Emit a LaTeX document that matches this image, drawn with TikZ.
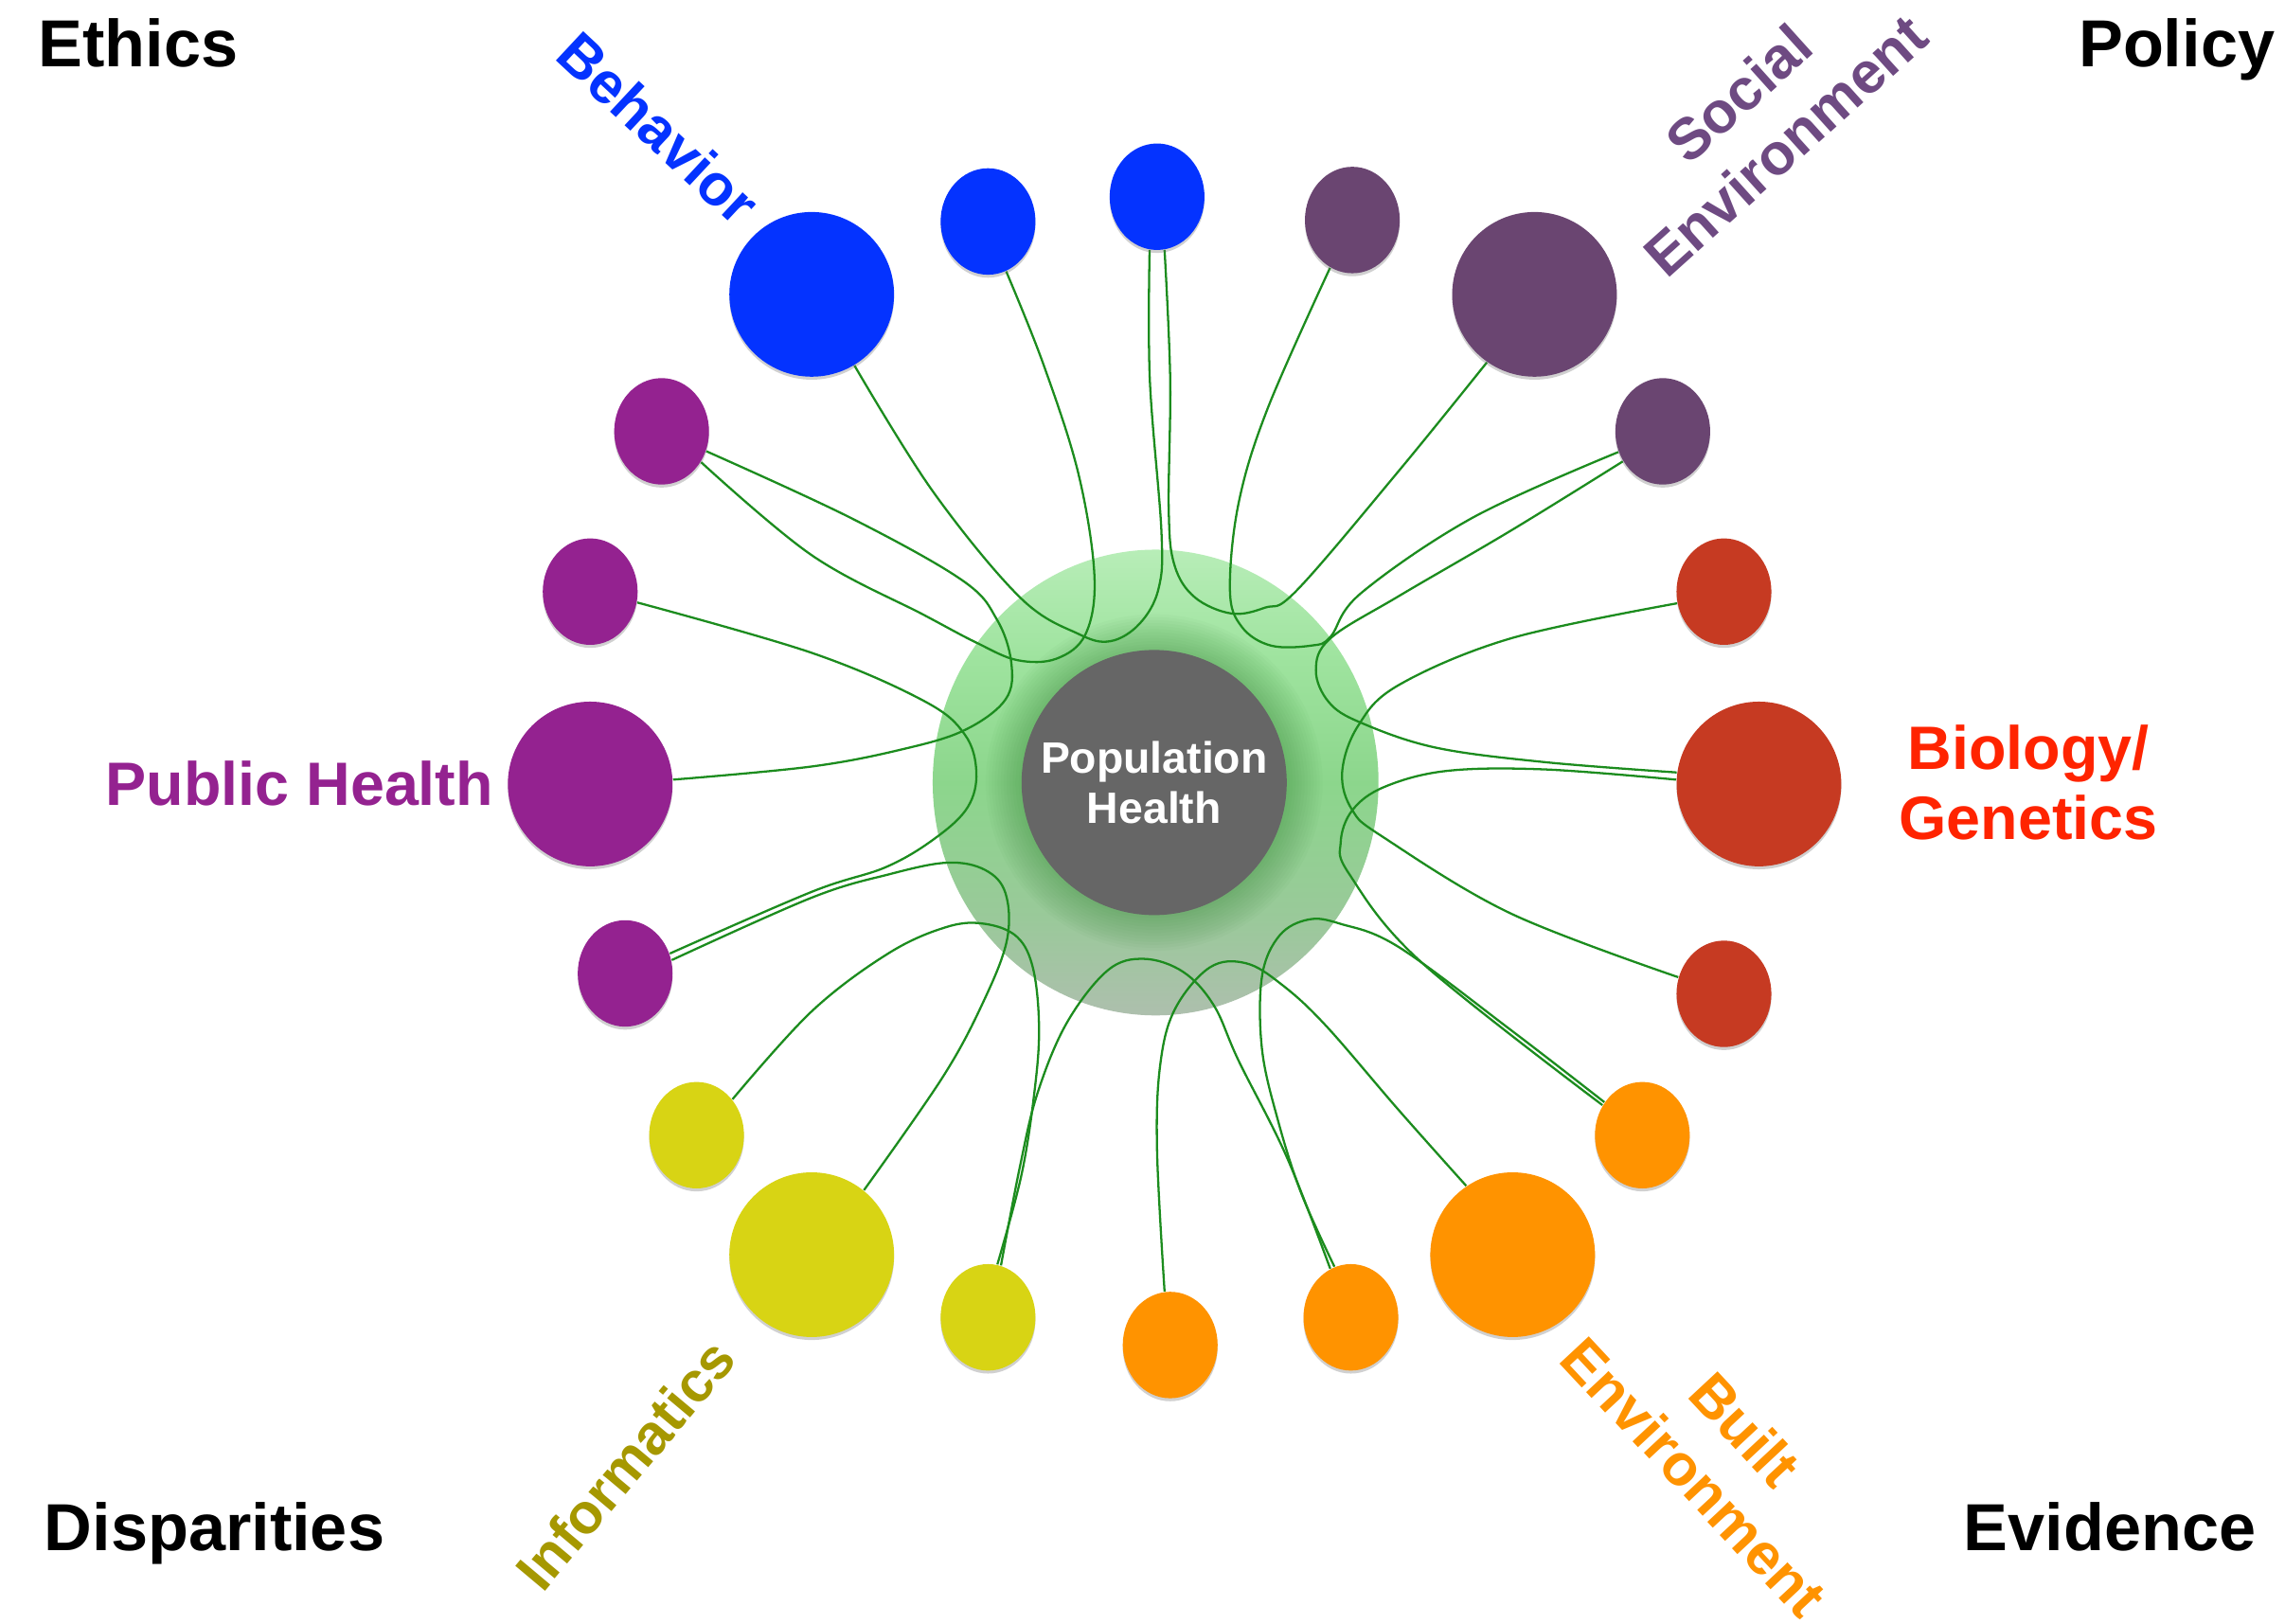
\documentclass[tikz,border=0pt]{standalone}
\usepackage{fontspec}
\setmainfont{Liberation Sans}
\usetikzlibrary{shapes.geometric,shadows}

\definecolor{cBlue}{HTML}{0433FF}
\definecolor{cSocial}{HTML}{6A4571}
\definecolor{cSocialText}{HTML}{6E4A82}
\definecolor{cRed}{HTML}{C63A22}
\definecolor{cRedText}{HTML}{FF2400}
\definecolor{cOrange}{HTML}{FF9300}
\definecolor{cYellow}{HTML}{D8D414}
\definecolor{cYellowText}{HTML}{A69800}
\definecolor{cPurple}{HTML}{942290}
\definecolor{cCore}{HTML}{666666}
\definecolor{cLink}{HTML}{1C8C1E}
\definecolor{haloGreen}{HTML}{2F7F2F}

% light green at the top, full green round the middle, grey-green at the bottom
\pgfdeclareverticalshading{glowshade}{100bp}{%
  rgb(0bp)=(0.68,0.75,0.68);
  rgb(25bp)=(0.68,0.75,0.68);
  rgb(36bp)=(0.60,0.79,0.60);
  rgb(50bp)=(0.55,0.84,0.55);
  rgb(63bp)=(0.62,0.89,0.62);
  rgb(75bp)=(0.72,0.93,0.72);
  rgb(100bp)=(0.72,0.93,0.72)}

\pgfdeclarelayer{back}
\pgfdeclarelayer{links}
\pgfsetlayers{back,links,main}

\begin{document}
\begin{tikzpicture}[x=0.015389cm, y=-0.015389cm,
  dotshadow/.style={drop shadow={shadow xshift=0pt, shadow yshift=-0.9pt, opacity=0.3, fill=black!60}},
  smalldot/.style={ellipse, minimum width=28.5pt, minimum height=32pt, inner sep=0pt, draw=none, dotshadow},
  bigdot/.style={circle, minimum size=49.5pt, inner sep=0pt, draw=none, dotshadow},
  link/.style={draw=cLink, line width=0.65pt},
  corner/.style={font=\fontsize{20}{24}\selectfont\bfseries, inner sep=0pt, text=black},
  topic/.style={font=\fontsize{18.4}{21}\selectfont\bfseries, inner sep=0pt, align=center},
  slanted/.style={font=\fontsize{17.5}{21}\selectfont\bfseries, inner sep=0pt, align=center}
]
\useasboundingbox (0,0) rectangle (1568,1114);

% satellites: Behavior
\node[bigdot, fill=cBlue] (B1) at (557,202) {};
\node[smalldot, fill=cBlue] (B2) at (678,152) {};
\node[smalldot, fill=cBlue] (B3) at (794,135) {};
% Social Environment
\node[smalldot, fill=cSocial] (S1) at (928,151) {};
\node[bigdot, fill=cSocial] (S2) at (1053,202) {};
\node[smalldot, fill=cSocial] (S3) at (1141,296) {};
% Biology / Genetics
\node[smalldot, fill=cRed] (R1) at (1183,406) {};
\node[bigdot, fill=cRed] (R2) at (1207,538) {};
\node[smalldot, fill=cRed] (R3) at (1183,682) {};
% Built Environment
\node[smalldot, fill=cOrange] (O1) at (1127,779) {};
\node[bigdot, fill=cOrange] (O2) at (1038,861) {};
\node[smalldot, fill=cOrange] (O3) at (927,904) {};
\node[smalldot, fill=cOrange] (O4) at (803,923) {};
% Informatics
\node[smalldot, fill=cYellow] (Y1) at (478,779) {};
\node[bigdot, fill=cYellow] (Y2) at (557,861) {};
\node[smalldot, fill=cYellow] (Y3) at (678,904) {};
% Public Health
\node[smalldot, fill=cPurple] (P1) at (429,668) {};
\node[bigdot, fill=cPurple] (P2) at (405,538) {};
\node[smalldot, fill=cPurple] (P3) at (405,406) {};
\node[smalldot, fill=cPurple] (P4) at (454,296) {};

% core
\node[circle, fill=cCore, minimum size=79.7pt, inner sep=0pt, text=white,
      font=\fontsize{13.2}{15.3}\selectfont\bfseries, align=center] (PH) at (792,537) {Population\\Health};

% white page and green glow behind the core
\begin{pgfonlayer}{back}
  \fill[white] (0,0) rectangle (1568,1114);
  \shade[shading=glowshade] (793,537) ellipse [x radius=67pt, y radius=70pt];
  \foreach \k in {1,...,12}
    \fill[haloGreen, opacity=0.03] (792,537) circle [radius={39.8pt+\k*0.9pt}];
\end{pgfonlayer}

% looping connectors
\begin{pgfonlayer}{links}
  \draw[link] plot[smooth, tension=0.6] coordinates {(B1.301) (640,337) (700,410) (740,435) (762,440) (782,428) (795,404) (797,365) (789,260) (B3.262)};
  \draw[link] plot[smooth, tension=0.6] coordinates {(B3.278) (803,260) (802,350) (806,388) (820,410) (845,421) (868,417) (890,405) (960,323) (S2.235)};
  \draw[link] plot[smooth, tension=0.6] coordinates {(S1.245) (870,280) (850,345) (844,405) (852,430) (872,443) (900,443) (913,437) (934,407) (1011,355) (S3.205)};
  \draw[link] plot[smooth, tension=0.6] coordinates {(S3.217) (1037,364) (960,409) (913,438) (903,460) (912,482) (934,496) (985,513) (1060,523) (R2.172)};
  \draw[link] plot[smooth, tension=0.6] coordinates {(R2.177) (1060,528) (993,529) (950,540) (928,556) (920,578) (926,600) (975,660) (O1.143)};
  \draw[link] plot[smooth, tension=0.6] coordinates {(R1.194) (1037,438) (960,470) (932,498) (921,530) (928,556) (950,575) (1037,627) (R3.160)};
  \draw[link] plot[smooth, tension=0.6] coordinates {(O1.139) (1037,707) (960,650) (920,634) (898,631) (878,642) (866,670) (866,720) (877,769) (893,819) (O3.108)};
  \draw[link] plot[smooth, tension=0.6] coordinates {(Y3.76) (700,800) (712,750) (732,702) (760,666) (785,658) (812,667) (833,690) (850,728) (883,794) (O3.113)};
  \draw[link] plot[smooth, tension=0.6] coordinates {(O4.96) (794,790) (796,732) (806,693) (830,664) (855,661) (880,676) (910,704) (960,762) (O2.124)};
  \draw[link] plot[smooth, tension=0.6] coordinates {(Y1.45) (557,694) (610,654) (650,636) (676,634) (698,643) (709,665) (713,705) (710,748) (701,806) (Y3.80)};
  \draw[link] plot[smooth, tension=0.6] coordinates {(P1.16) (557,616) (610,600) (650,592) (676,597) (690,613) (691,645) (675,687) (647,739) (Y2.51)};
  \draw[link] plot[smooth, tension=0.6] coordinates {(P3.347) (557,448) (634,481) (662,504) (670,530) (664,554) (642,575) (608,595) (557,612) (P1.24)};
  \draw[link] plot[smooth, tension=0.6] coordinates {(P4.336) (583,355) (660,398) (684,425) (694,455) (690,480) (662,501) (620,514) (557,526) (P2.3)};
  \draw[link] plot[smooth, tension=0.6] coordinates {(B2.290) (716,250) (740,325) (751,395) (745,435) (725,452) (698,453) (670,441) (634,422) (557,381) (P4.322)};
\end{pgfonlayer}

% group labels
\node[slanted, text=cBlue, rotate=-43] (behav) at (452,88) {Behavior};
\node[slanted, text=cSocialText, rotate=42] (social) at (1209,82) {Social\\Environment};
\node[topic, text=cRedText] (bio) at (1392,537) {Biology/\\Genetics};
\node[slanted, text=cOrange, rotate=-47] (built) at (1180,997) {Built\\Environment};
\node[slanted, text=cYellowText, rotate=50, font=\fontsize{17}{21}\selectfont\bfseries] (infor) at (429,1005) {Informatics};
\node[topic, text=cPurple, anchor=base west] (pubh) at (72,552.8) {Public Health};

% corner labels
\node[corner, anchor=base west] (ethics) at (26,46) {Ethics};
\node[corner, anchor=base west] (policy) at (1426,46) {Policy};
\node[corner, anchor=base west] (disp) at (30,1064) {Disparities};
\node[corner, anchor=base west] (evid) at (1347,1064) {Evidence};
\end{tikzpicture}
\end{document}
